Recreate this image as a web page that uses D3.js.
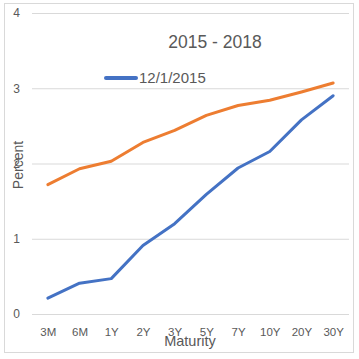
<!DOCTYPE html>
<html><head><meta charset="utf-8">
<script src="https://cdn.jsdelivr.net/npm/d3@7"></script>
<style>body{margin:0;background:#fff}svg{display:block;font-family:"Liberation Sans",Arial,sans-serif}</style>
</head><body><svg id="c" width="359" height="359"></svg>
<script>
const categories = ["3M","6M","1Y","2Y","3Y","5Y","7Y","10Y","20Y","30Y"];
const series2015 = [0.21,0.41,0.47,0.91,1.2,1.59,1.94,2.16,2.58,2.9];
const series2018 = [1.72,1.93,2.03,2.28,2.44,2.64,2.77,2.84,2.95,3.07];
const yTicks = [0,1,2,3,4];
const title = "2015 - 2018";
const legendLabel = "12/1/2015";

const svg = d3.select("#c");
const grey = "#595959";
svg.append("rect").attr("x",4.5).attr("y",3.5).attr("width",349).attr("height",349)
  .attr("fill","#fff").attr("stroke","#d9d9d9");

const x = d3.scalePoint().domain(categories).range([32,349]).padding(0.5);
const y = d3.scaleLinear().domain([0,4]).range([314,13]);

const gy = svg.append("g").attr("transform","translate(32,0)")
  .call(d3.axisLeft(y).tickValues(yTicks).tickSize(-317).tickPadding(12).tickFormat(d3.format("d")));
gy.select(".domain").remove();
gy.selectAll(".tick line").attr("stroke","#d9d9d9");
gy.selectAll(".tick text").attr("fill",grey).attr("font-size",12).attr("dx",0);

const gx = svg.append("g").attr("transform","translate(0,314)")
  .call(d3.axisBottom(x).tickSize(0).tickPadding(14));
gx.select(".domain").remove();
gx.selectAll(".tick text").attr("fill",grey).attr("font-size",11.5);

const line = d3.line().x((d,i)=>x(categories[i])).y(d=>y(d));
svg.append("path").datum(series2018).attr("d",line).attr("fill","none")
  .attr("stroke","#ED7D31").attr("stroke-width",3).attr("stroke-linejoin","round").attr("stroke-linecap","round");
svg.append("path").datum(series2015).attr("d",line).attr("fill","none")
  .attr("stroke","#4472C4").attr("stroke-width",3).attr("stroke-linejoin","round").attr("stroke-linecap","round");

svg.append("text").attr("x",215).attr("y",48).attr("text-anchor","middle")
  .attr("font-size",17.5).attr("fill",grey).text(title);

svg.append("line").attr("x1",106).attr("x2",136).attr("y1",78).attr("y2",78)
  .attr("stroke","#4472C4").attr("stroke-width",4).attr("stroke-linecap","round");
svg.append("text").attr("x",139).attr("y",83).attr("font-size",15).attr("fill",grey).text(legendLabel);

svg.append("text").attr("transform","translate(23,165) rotate(-90)").attr("text-anchor","middle")
  .attr("font-size",14).attr("fill",grey).text("Percent");
svg.append("text").attr("x",190).attr("y",346).attr("text-anchor","middle")
  .attr("font-size",14.5).attr("fill",grey).text("Maturity");
</script></body></html>
